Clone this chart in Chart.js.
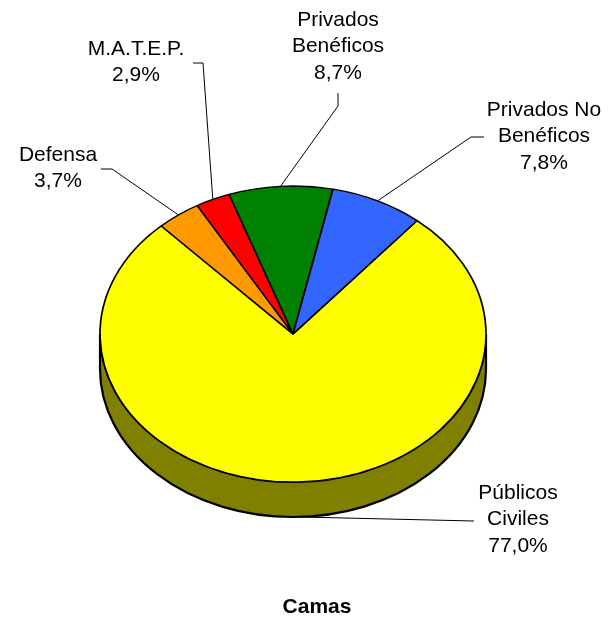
<!DOCTYPE html>
<html>
<head>
<meta charset="utf-8">
<title>Camas</title>
<script src="https://cdn.jsdelivr.net/npm/chart.js@4.4.0/dist/chart.umd.min.js"></script>
<style>
  html, body { margin: 0; padding: 0; background: #fff; }
  canvas { display: block; }
</style>
</head>
<body>
<canvas id="chart" width="611" height="622"></canvas>
<script>
// Chart data
const categories = [['Públicos', 'Civiles'], ['Defensa'], ['M.A.T.E.P.'], ['Privados', 'Benéficos'], ['Privados No', 'Benéficos']];
const values = [77.0, 3.7, 2.9, 8.7, 7.8];
const colors = ['#FFFF00', '#FF9900', '#FF0000', '#008000', '#3366FF'];
const chartTitle = 'Camas';

// 3D pie look: ellipse centre, radii and thickness
const CX = 293, CY = 334, RX = 193, RY = 148, DEPTH = 35;

// label text centre (first line) and leader line points, same order as categories
const labelPos = [[518, 493], [58, 155], [136, 49], [338, 20], [544, 110]];
const leaderPts = [
  [[474, 521]],
  [[101, 169], [112, 169]],
  [[193, 63], [203, 63]],
  [[338, 93], [338, 106]],
  [[484, 137], [471, 137]]
];
const LINE_H = 26.7;
const FONT = '"Liberation Sans", Arial, sans-serif';

Chart.defaults.font.family = FONT;

// half brightness for the side of the pie
function darken(hex) {
  const n = parseInt(hex.slice(1), 16);
  const r = (n >> 16) & 255, g = (n >> 8) & 255, b = n & 255;
  return 'rgb(' + Math.round(r / 2) + ',' + Math.round(g / 2) + ',' + Math.round(b / 2) + ')';
}

function fmtPct(v) {
  return v.toFixed(1).replace('.', ',') + '%';
}

const pie3d = {
  id: 'pie3d',
  beforeDatasetsDraw(chart) {
    const ctx = chart.ctx;
    const arcs = chart.getDatasetMeta(0).data;
    const TWO_PI = Math.PI * 2;

    // side band, only the front half of the ellipse is visible
    arcs.forEach((arc, i) => {
      let s = arc.startAngle, e = arc.endAngle;
      const k = Math.floor(s / TWO_PI);
      s -= k * TWO_PI;
      e -= k * TWO_PI;
      [0, TWO_PI].forEach(base => {
        const lo = Math.max(s, base), hi = Math.min(e, base + Math.PI);
        if (hi <= lo) return;
        ctx.save();
        ctx.beginPath();
        ctx.ellipse(CX, CY, RX, RY, 0, lo, hi);
        ctx.ellipse(CX, CY + DEPTH, RX, RY, 0, hi, lo, true);
        ctx.closePath();
        ctx.fillStyle = darken(colors[i]);
        ctx.fill();
        ctx.lineWidth = 2.2;
        ctx.strokeStyle = '#000';
        ctx.stroke();
        ctx.restore();
      });
    });

    // squash the library's round pie onto the ellipse
    const a0 = arcs[0];
    ctx.save();
    ctx.translate(CX, CY);
    ctx.scale(RX / a0.outerRadius, RY / a0.outerRadius);
    ctx.translate(-a0.x, -a0.y);
  },
  afterDatasetsDraw(chart) {
    chart.ctx.restore();
  },
  afterDraw(chart) {
    const ctx = chart.ctx;
    const arcs = chart.getDatasetMeta(0).data;
    ctx.save();

    // leader lines
    arcs.forEach((arc, i) => {
      const m = (arc.startAngle + arc.endAngle) / 2;
      let ax = CX + RX * Math.cos(m);
      let ay = CY + RY * Math.sin(m);
      if (Math.sin(m) > 0) ay += DEPTH;
      const pts = leaderPts[i];
      ctx.beginPath();
      ctx.moveTo(pts[0][0], pts[0][1]);
      for (let j = 1; j < pts.length; j++) ctx.lineTo(pts[j][0], pts[j][1]);
      ctx.lineTo(ax, ay);
      ctx.lineWidth = 1;
      ctx.strokeStyle = '#000';
      ctx.stroke();
    });

    // label text
    ctx.font = '21px ' + FONT;
    ctx.fillStyle = '#000';
    ctx.textAlign = 'center';
    ctx.textBaseline = 'middle';
    categories.forEach((lines, i) => {
      const all = lines.concat([fmtPct(values[i])]);
      all.forEach((t, j) => {
        ctx.fillText(t, labelPos[i][0], labelPos[i][1] + j * LINE_H);
      });
    });
    ctx.restore();
  }
};

new Chart(document.getElementById('chart'), {
  type: 'pie',
  data: {
    labels: categories,
    datasets: [{
      data: values,
      backgroundColor: colors,
      borderColor: '#000',
      borderWidth: 2.6
    }]
  },
  options: {
    responsive: false,
    animation: false,
    events: [],
    rotation: 40,
    layout: { padding: { left: 23, right: 0, top: 0, bottom: 0 } },
    plugins: {
      legend: { display: false },
      tooltip: { enabled: false },
      title: {
        display: true,
        text: chartTitle,
        position: 'bottom',
        color: '#000',
        font: { size: 21, weight: 'bold', family: FONT },
        padding: { top: 0, bottom: 2.4 }
      }
    }
  },
  plugins: [pie3d]
});
</script>
</body>
</html>
